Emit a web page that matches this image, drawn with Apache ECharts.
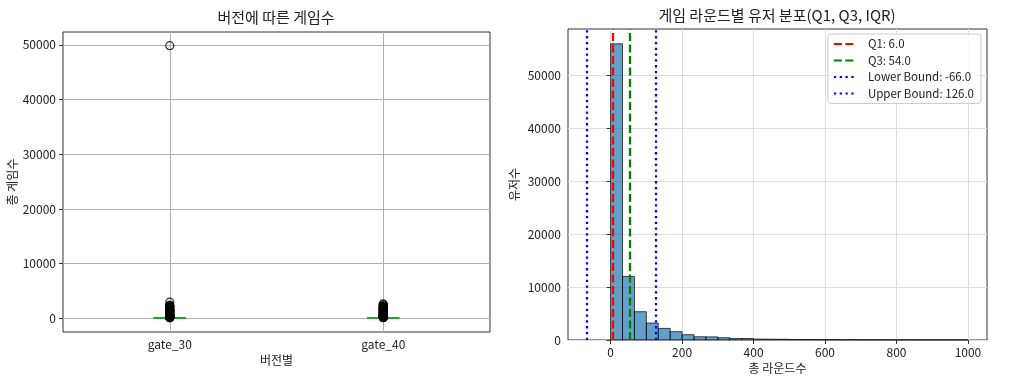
<!DOCTYPE html>
<html><head><meta charset="utf-8">
<script src="https://cdn.jsdelivr.net/npm/echarts@6/dist/echarts.min.js"></script>
<style>html,body{margin:0;padding:0;background:#fff}#c{width:1020px;height:383px}</style>
</head><body><div id="c"></div>
<script>
const FONT = '"Noto Sans CJK KR", "Noto Sans", sans-serif';

// ---- Left: box plot data ----
const versions = ['gate_30', 'gate_40'];
// [lower whisker, Q1, median, Q3, upper whisker]
const boxGate30 = [0, 5, 17, 50, 117];
const boxGate40 = [0, 5, 16, 52, 120];
const gate30Outliers = [49854, 2961, 2438, 2294, 2251, 2156, 2124, 2063, 1906, 1817, 1740, 1688, 1620, 1560, 1480, 1420, 1350, 1290, 1220, 1160, 1100, 1040, 980, 920, 860, 800, 740, 680, 620, 560, 500, 450, 400, 360, 320, 280, 250, 220, 200, 180, 160, 140, 130, 120];
const gate40Outliers = [2640, 2530, 2294, 2251, 2202, 2100, 2015, 1950, 1880, 1800, 1730, 1650, 1580, 1500, 1430, 1360, 1290, 1220, 1150, 1080, 1010, 940, 870, 800, 740, 680, 620, 560, 500, 450, 400, 360, 320, 290, 260, 230, 200, 180, 160, 140, 125];
const leftYTicks = [0, 10000, 20000, 30000, 40000, 50000];

// ---- Right: histogram data ----
const binEdges = [0, 33.3, 66.7, 100, 133.3, 166.7, 200, 233.3, 266.7, 300, 333.3, 366.7, 400, 433.3, 466.7, 500, 533.3, 566.7, 600, 633.3, 666.7, 700, 733.3, 766.7, 800, 833.3, 866.7, 900, 933.3, 966.7, 1000];
const binCounts = [55900, 12000, 5340, 3200, 2190, 1570, 1000, 610, 590, 430, 300, 280, 170, 150, 130, 90, 70, 60, 50, 40, 40, 30, 30, 20, 20, 20, 10, 10, 10, 10];
const q1 = 6.0, q3 = 54.0, lowerBound = -66.0, upperBound = 126.0;
const rightXTicks = [0, 200, 400, 600, 800, 1000];
const rightYTicks = [0, 10000, 20000, 30000, 40000, 50000];

const chart = echarts.init(document.getElementById('c'), null, {renderer: 'canvas'});

const plain = v => String(v);
const tickLabel = {fontFamily: FONT, fontSize: 12, color: '#222', formatter: plain};
const nameStyle = {fontFamily: FONT, fontSize: 12, color: '#222'};

const histData = binCounts.map((c, i) => [binEdges[i], binEdges[i + 1], c]);
const outlierData = gate30Outliers.map(v => [0, v]).concat(gate40Outliers.map(v => [1, v]));

function vline(name, x, color, type) {
  return {
    name: name, type: 'line', xAxisIndex: 1, yAxisIndex: 1, data: [],
    symbol: 'none', showSymbol: false, z: 10,
    itemStyle: {color: color},
    lineStyle: {color: color, width: 2.3, type: type},
    markLine: {
      symbol: 'none', silent: true, animation: false,
      label: {show: false},
      lineStyle: {color: color, width: 2.3, type: type},
      emphasis: {disabled: true},
      data: [{xAxis: x}]
    }
  };
}

const option = {
  animation: false,
  backgroundColor: '#fff',
  title: [
    {text: '버전에 따른 게임수', left: 276, top: 10, textAlign: 'center', padding: 0,
     textStyle: {fontFamily: FONT, fontSize: 15, fontWeight: 'normal', color: '#222'}},
    {text: '게임 라운드별 유저 분포(Q1, Q3, IQR)', left: 777, top: 8, textAlign: 'center', padding: 0,
     textStyle: {fontFamily: FONT, fontSize: 15, fontWeight: 'normal', color: '#222'}}
  ],
  legend: {
    data: ['Q1: 6.0', 'Q3: 54.0', 'Lower Bound: -66.0', 'Upper Bound: 126.0'],
    orient: 'vertical', right: 39, top: 34,
    itemWidth: 22, itemHeight: 14, itemGap: 2.5,
    padding: [3, 7, 3, 5],
    itemStyle: {opacity: 0, borderWidth: 0},
    backgroundColor: 'rgba(255,255,255,0.8)', borderColor: '#cccccc', borderWidth: 1, borderRadius: 3,
    textStyle: {fontFamily: FONT, fontSize: 11.5, lineHeight: 14, color: '#222', padding: [0, 0, 0, 7]},
    selectedMode: false
  },
  grid: [
    {left: 63, right: 530, top: 32, bottom: 51, show: true, borderColor: '#333', borderWidth: 1, backgroundColor: 'transparent'},
    {left: 568, right: 33, top: 29, bottom: 43, show: true, borderColor: '#333', borderWidth: 1, backgroundColor: 'transparent'}
  ],
  xAxis: [
    {type: 'category', gridIndex: 0, data: versions, boundaryGap: true,
     name: '버전별', nameLocation: 'middle', nameGap: 22, nameTextStyle: nameStyle,
     axisLine: {show: false}, axisTick: {show: true, alignWithLabel: true, length: 4, lineStyle: {color: '#333'}},
     axisLabel: Object.assign({}, tickLabel, {margin: 6, formatter: null}), splitLine: {show: false}},
    {type: 'value', gridIndex: 1, min: -119.3, max: 1053.3,
     name: '총 라운드수', nameLocation: 'middle', nameGap: 21, nameTextStyle: nameStyle,
     axisLine: {show: false}, axisTick: {show: true, length: 4, lineStyle: {color: '#333'}, customValues: rightXTicks},
     axisLabel: Object.assign({margin: 6, customValues: rightXTicks}, tickLabel),
     splitLine: {show: true, lineStyle: {color: '#dddddd', width: 1}}}
  ],
  yAxis: [
    {type: 'value', gridIndex: 0, min: -2493, max: 52347,
     name: '총 게임수', nameLocation: 'middle', nameGap: 45, nameTextStyle: nameStyle,
     axisLine: {show: false}, axisTick: {show: true, length: 4, lineStyle: {color: '#333'}, customValues: leftYTicks},
     axisLabel: Object.assign({margin: 7, customValues: leftYTicks}, tickLabel),
     splitLine: {show: true, lineStyle: {color: '#b0b0b0', width: 1}}},
    {type: 'value', gridIndex: 1, min: 0, max: 58695,
     name: '유저수', nameLocation: 'middle', nameGap: 48, nameTextStyle: nameStyle,
     axisLine: {show: false}, axisTick: {show: true, length: 4, lineStyle: {color: '#333'}, customValues: rightYTicks},
     axisLabel: Object.assign({margin: 7, customValues: rightYTicks}, tickLabel),
     splitLine: {show: true, lineStyle: {color: '#dddddd', width: 1}}}
  ],
  series: [
    {type: 'boxplot', xAxisIndex: 0, yAxisIndex: 0, data: [boxGate30, boxGate40],
     boxWidth: [32, 32], silent: true, z: 3,
     itemStyle: {color: 'transparent', borderColor: '#1f77b4', borderWidth: 1},
     markLine: {symbol: 'none', silent: true, label: {show: false},
       lineStyle: {color: '#b0b0b0', width: 1, type: 'solid'},
       data: [{xAxis: 'gate_30'}, {xAxis: 'gate_40'}]}},
    {type: 'custom', xAxisIndex: 0, yAxisIndex: 0, z: 4, silent: true,
     data: [[0, boxGate30[2]], [1, boxGate40[2]]],
     renderItem: function (params, api) {
       const c = api.coord([api.value(0), api.value(1)]);
       const w = api.size([1, 0])[0] * 0.15;
       return {type: 'line', shape: {x1: c[0] - w / 2, y1: c[1], x2: c[0] + w / 2, y2: c[1]},
               style: {stroke: '#2ca02c', lineWidth: 1.5}};
     }},
    {type: 'scatter', xAxisIndex: 0, yAxisIndex: 0, data: outlierData, z: 5, silent: true,
     symbol: 'circle', symbolSize: 8,
     itemStyle: {color: 'rgba(0,0,0,0)', borderColor: '#000', borderWidth: 1.2}},
    {type: 'custom', xAxisIndex: 1, yAxisIndex: 1, data: histData, z: 3, silent: true,
     encode: {x: [0, 1], y: 2},
     renderItem: function (params, api) {
       const p0 = api.coord([api.value(0), api.value(2)]);
       const p1 = api.coord([api.value(1), 0]);
       return {type: 'rect', shape: {x: p0[0], y: p0[1], width: p1[0] - p0[0], height: p1[1] - p0[1]},
               style: {fill: 'rgba(31,119,180,0.7)', stroke: 'rgba(0,0,0,0.7)', lineWidth: 1}};
     }},
    vline('Q1: 6.0', q1, '#ff0000', [8, 3.5]),
    vline('Q3: 54.0', q3, '#008000', [8, 3.5]),
    vline('Lower Bound: -66.0', lowerBound, '#0000ff', [2.3, 3.5]),
    vline('Upper Bound: 126.0', upperBound, '#0000ff', [2.3, 3.5])
  ]
};
chart.setOption(option);
</script>
</body></html>
